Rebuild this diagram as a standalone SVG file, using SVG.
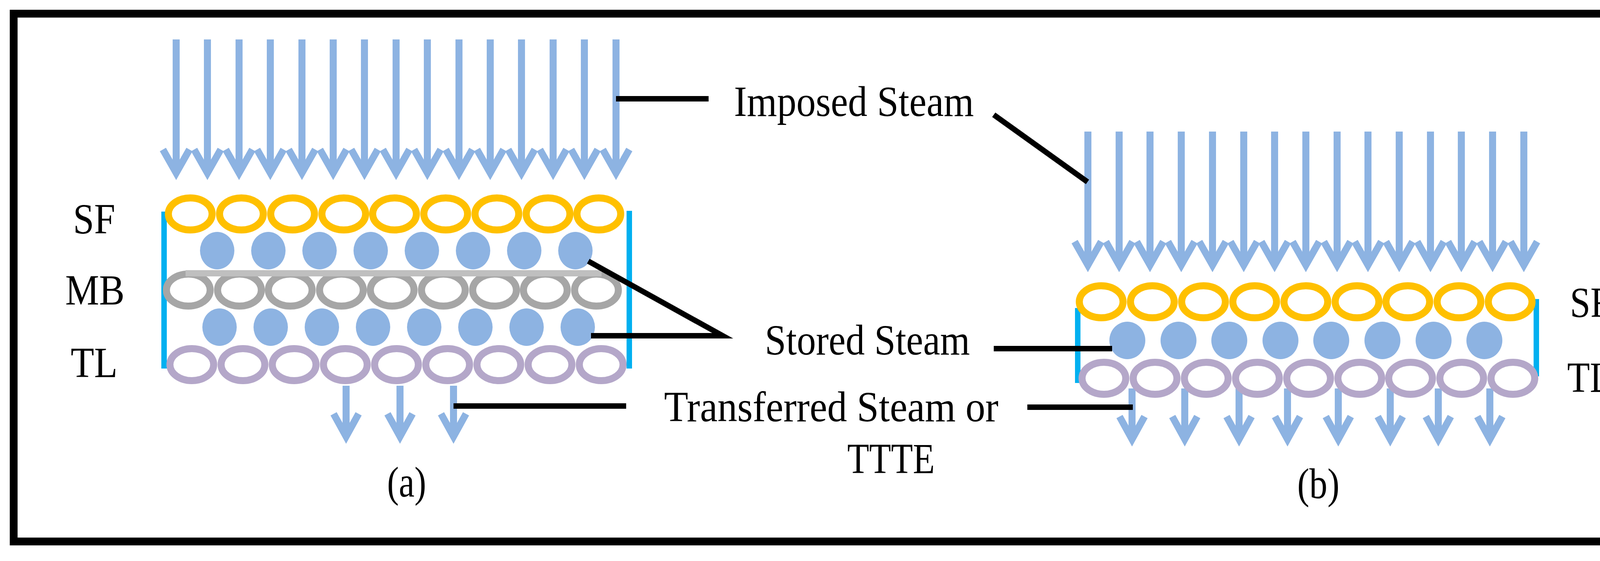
<svg xmlns="http://www.w3.org/2000/svg" xmlns:xlink="http://www.w3.org/1999/xlink" width="4289" height="1437" viewBox="0 0 4289 1437">
<style>
.t{font-family:"Liberation Serif","Times New Roman",serif;font-size:110px;fill:#000}
.sf{fill:none;stroke:#ffc000;stroke-width:18}
.mb{fill:none;stroke:#a6a6a6;stroke-width:18}
.tl{fill:none;stroke:#b4a7c9;stroke-width:18}
.dot{fill:#8db3e2}
.side{stroke:#00b0f0;stroke-width:14}
.lead{stroke:#000;stroke-width:14;fill:none}
.arr{fill:none;stroke:#8db3e2;stroke-width:18;stroke-linejoin:miter;stroke-miterlimit:10}
</style>
<defs>
<path id="la" class="arr" d="M0,0 V335 M-34,282 L0,342 L34,282"/>
<path id="sa" class="arr" d="M0,0 V122 M-32,72 L0,130 L32,72"/>
</defs>
<rect x="35" y="35" width="4214" height="1352" fill="#fff" stroke="#000" stroke-width="20"/>
<g id="panel-a-arrows">
<use href="#la" x="451" y="101"/><use href="#la" x="531" y="101"/><use href="#la" x="612" y="101"/><use href="#la" x="692" y="101"/><use href="#la" x="773" y="101"/><use href="#la" x="853" y="101"/><use href="#la" x="933" y="101"/><use href="#la" x="1014" y="101"/><use href="#la" x="1094" y="101"/><use href="#la" x="1175" y="101"/><use href="#la" x="1255" y="101"/><use href="#la" x="1335" y="101"/><use href="#la" x="1416" y="101"/><use href="#la" x="1496" y="101"/><use href="#la" x="1577" y="101"/>
<use href="#sa" x="886" y="988"/><use href="#sa" x="1024" y="988"/><use href="#sa" x="1161" y="988"/>
</g>
<g id="panel-a-layers">
<line class="side" x1="420" y1="542" x2="420" y2="944"/>
<line class="side" x1="1611" y1="540" x2="1611" y2="944"/>
<g id="a-sf"><ellipse class="sf" cx="487" cy="548" rx="56" ry="41"/><ellipse class="sf" cx="618" cy="548" rx="56" ry="41"/><ellipse class="sf" cx="749" cy="548" rx="56" ry="41"/><ellipse class="sf" cx="880" cy="548" rx="56" ry="41"/><ellipse class="sf" cx="1010" cy="548" rx="56" ry="41"/><ellipse class="sf" cx="1141" cy="548" rx="56" ry="41"/><ellipse class="sf" cx="1272" cy="548" rx="56" ry="41"/><ellipse class="sf" cx="1403" cy="548" rx="56" ry="41"/><ellipse class="sf" cx="1533" cy="548" rx="56" ry="41"/></g>
<g id="a-dots1"><ellipse class="dot" cx="556" cy="642" rx="44" ry="48"/><ellipse class="dot" cx="687" cy="642" rx="44" ry="48"/><ellipse class="dot" cx="818" cy="642" rx="44" ry="48"/><ellipse class="dot" cx="949" cy="642" rx="44" ry="48"/><ellipse class="dot" cx="1080" cy="642" rx="44" ry="48"/><ellipse class="dot" cx="1211" cy="642" rx="44" ry="48"/><ellipse class="dot" cx="1342" cy="642" rx="44" ry="48"/><ellipse class="dot" cx="1473" cy="642" rx="44" ry="48"/></g>
<g id="a-mb"><ellipse class="mb" cx="482" cy="743" rx="56" ry="41"/><ellipse class="mb" cx="613" cy="743" rx="56" ry="41"/><ellipse class="mb" cx="743" cy="743" rx="56" ry="41"/><ellipse class="mb" cx="874" cy="743" rx="56" ry="41"/><ellipse class="mb" cx="1004" cy="743" rx="56" ry="41"/><ellipse class="mb" cx="1135" cy="743" rx="56" ry="41"/><ellipse class="mb" cx="1266" cy="743" rx="56" ry="41"/><ellipse class="mb" cx="1396" cy="743" rx="56" ry="41"/><ellipse class="mb" cx="1527" cy="743" rx="56" ry="41"/></g>
<line x1="475" y1="700" x2="1540" y2="700" stroke="#bfbfbf" stroke-width="16"/>
<g id="a-dots2"><ellipse class="dot" cx="562" cy="838" rx="44" ry="48"/><ellipse class="dot" cx="693" cy="838" rx="44" ry="48"/><ellipse class="dot" cx="824" cy="838" rx="44" ry="48"/><ellipse class="dot" cx="955" cy="838" rx="44" ry="48"/><ellipse class="dot" cx="1086" cy="838" rx="44" ry="48"/><ellipse class="dot" cx="1217" cy="838" rx="44" ry="48"/><ellipse class="dot" cx="1348" cy="838" rx="44" ry="48"/><ellipse class="dot" cx="1479" cy="838" rx="44" ry="48"/></g>
<g id="a-tl"><ellipse class="tl" cx="491" cy="934" rx="56" ry="41"/><ellipse class="tl" cx="622" cy="934" rx="56" ry="41"/><ellipse class="tl" cx="753" cy="934" rx="56" ry="41"/><ellipse class="tl" cx="884" cy="934" rx="56" ry="41"/><ellipse class="tl" cx="1015" cy="934" rx="56" ry="41"/><ellipse class="tl" cx="1146" cy="934" rx="56" ry="41"/><ellipse class="tl" cx="1277" cy="934" rx="56" ry="41"/><ellipse class="tl" cx="1408" cy="934" rx="56" ry="41"/><ellipse class="tl" cx="1539" cy="934" rx="56" ry="41"/></g>
</g>
<g id="panel-b-arrows">
<use href="#la" x="2785" y="337"/><use href="#la" x="2865" y="337"/><use href="#la" x="2944" y="337"/><use href="#la" x="3024" y="337"/><use href="#la" x="3104" y="337"/><use href="#la" x="3184" y="337"/><use href="#la" x="3263" y="337"/><use href="#la" x="3343" y="337"/><use href="#la" x="3423" y="337"/><use href="#la" x="3502" y="337"/><use href="#la" x="3582" y="337"/><use href="#la" x="3662" y="337"/><use href="#la" x="3741" y="337"/><use href="#la" x="3821" y="337"/><use href="#la" x="3901" y="337"/>
<use href="#sa" x="2898" y="995"/><use href="#sa" x="3033" y="995"/><use href="#sa" x="3172" y="995"/><use href="#sa" x="3296" y="995"/><use href="#sa" x="3426" y="995"/><use href="#sa" x="3559" y="995"/><use href="#sa" x="3682" y="995"/><use href="#sa" x="3814" y="995"/>
</g>
<g id="panel-b-layers">
<line class="side" x1="2759" y1="789" x2="2759" y2="981"/>
<line class="side" x1="3933" y1="766" x2="3933" y2="964"/>
<g id="b-sf"><ellipse class="sf" cx="2819" cy="773" rx="56" ry="41"/><ellipse class="sf" cx="2950" cy="773" rx="56" ry="41"/><ellipse class="sf" cx="3081" cy="773" rx="56" ry="41"/><ellipse class="sf" cx="3212" cy="773" rx="56" ry="41"/><ellipse class="sf" cx="3343" cy="773" rx="56" ry="41"/><ellipse class="sf" cx="3474" cy="773" rx="56" ry="41"/><ellipse class="sf" cx="3604" cy="773" rx="56" ry="41"/><ellipse class="sf" cx="3735" cy="773" rx="56" ry="41"/><ellipse class="sf" cx="3866" cy="773" rx="56" ry="41"/></g>
<g id="b-dots"><ellipse class="dot" cx="2886" cy="872" rx="46" ry="48"/><ellipse class="dot" cx="3017" cy="872" rx="46" ry="48"/><ellipse class="dot" cx="3147" cy="872" rx="46" ry="48"/><ellipse class="dot" cx="3278" cy="872" rx="46" ry="48"/><ellipse class="dot" cx="3408" cy="872" rx="46" ry="48"/><ellipse class="dot" cx="3539" cy="872" rx="46" ry="48"/><ellipse class="dot" cx="3670" cy="872" rx="46" ry="48"/><ellipse class="dot" cx="3800" cy="872" rx="46" ry="48"/></g>
<g id="b-tl"><ellipse class="tl" cx="2826" cy="969" rx="56" ry="41"/><ellipse class="tl" cx="2957" cy="969" rx="56" ry="41"/><ellipse class="tl" cx="3088" cy="969" rx="56" ry="41"/><ellipse class="tl" cx="3219" cy="969" rx="56" ry="41"/><ellipse class="tl" cx="3350" cy="969" rx="56" ry="41"/><ellipse class="tl" cx="3481" cy="969" rx="56" ry="41"/><ellipse class="tl" cx="3611" cy="969" rx="56" ry="41"/><ellipse class="tl" cx="3742" cy="969" rx="56" ry="41"/><ellipse class="tl" cx="3873" cy="969" rx="56" ry="41"/></g>
</g>
<g id="connectors">
<line class="lead" x1="1577" y1="253" x2="1814" y2="253"/>
<line class="lead" x1="2544" y1="294" x2="2784" y2="466"/>
<polyline class="lead" points="1506,669 1850,860 1513,860"/>
<line class="lead" x1="2544" y1="893" x2="2847" y2="893"/>
<line class="lead" x1="1161" y1="1040" x2="1603" y2="1040"/>
<line class="lead" x1="2630" y1="1043" x2="2900" y2="1043"/>
</g>
<g id="labels">
<text class="t" x="187" y="598" textLength="108" lengthAdjust="spacingAndGlyphs">SF</text>
<text class="t" x="167" y="780" textLength="152" lengthAdjust="spacingAndGlyphs">MB</text>
<text class="t" x="181" y="966" textLength="120" lengthAdjust="spacingAndGlyphs">TL</text>
<text class="t" x="4019" y="812" textLength="105" lengthAdjust="spacingAndGlyphs">SF</text>
<text class="t" x="4012" y="1004" textLength="116" lengthAdjust="spacingAndGlyphs">TL</text>
<text class="t" x="1879" y="297" textLength="614" lengthAdjust="spacingAndGlyphs">Imposed Steam</text>
<text class="t" x="1958" y="908" textLength="525" lengthAdjust="spacingAndGlyphs">Stored Steam</text>
<text class="t" x="1700" y="1079" textLength="856" lengthAdjust="spacingAndGlyphs">Transferred Steam or</text>
<text class="t" x="2169" y="1212" textLength="224" lengthAdjust="spacingAndGlyphs">TTTE</text>
<text class="t" x="991" y="1272" textLength="100" lengthAdjust="spacingAndGlyphs">(a)</text>
<text class="t" x="3321" y="1276" textLength="108" lengthAdjust="spacingAndGlyphs">(b)</text>
</g>
</svg>
